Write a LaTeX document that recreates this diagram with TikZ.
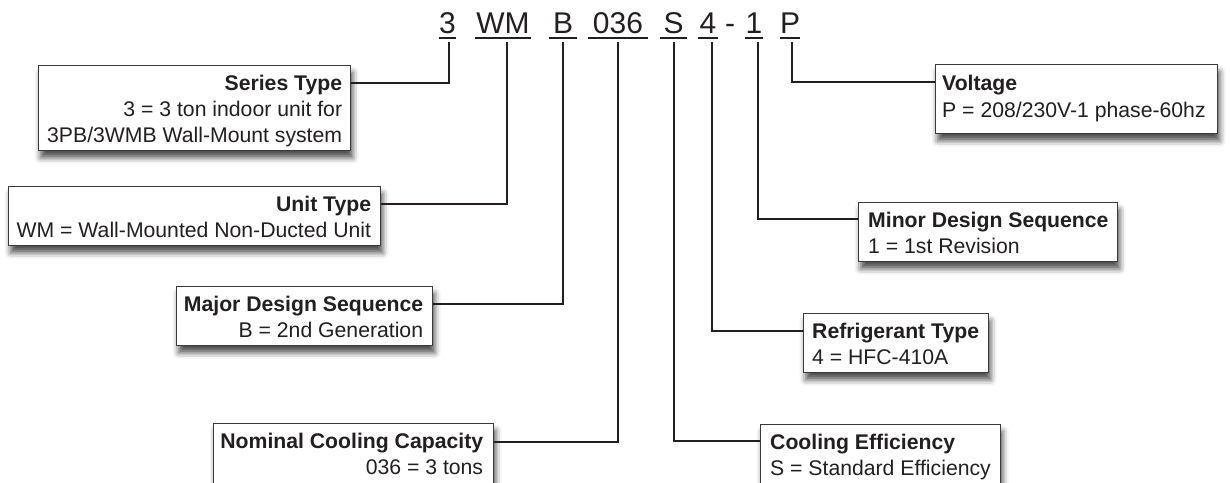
\documentclass[tikz,border=0pt]{standalone}
\usepackage{fontspec}
\setmainfont{Liberation Sans}
\usetikzlibrary{calc,shadows.blur}
\definecolor{ink}{HTML}{231F20}
\definecolor{boxline}{HTML}{3A3A3A}
\begin{document}
\begin{tikzpicture}[x=1pt,y=-1pt,
  box/.style={draw=boxline, line width=1.3pt, fill=white, anchor=north west, inner sep=0pt,
    blur shadow={shadow xshift=2pt, shadow yshift=-7pt, shadow blur radius=6pt, shadow opacity=70}},
  ttl/.style={font=\fontsize{21.2}{26}\selectfont\bfseries, text=ink, inner sep=0pt},
  dsc/.style={font=\fontsize{21.2}{26}\selectfont, text=ink, inner sep=0pt},
  code/.style={font=\fontsize{30}{36}\selectfont, text=ink, inner xsep=0pt, inner ysep=0pt, text depth=5pt, anchor=base},
  uline/.style={draw=ink, line width=2pt},
  conn/.style={draw=ink, line width=2pt}]
\useasboundingbox (0,0) rectangle (1230,482);

% code characters
\node[code, minimum width=17pt] (c3)   at (447.5,33) {3};
\node[code, minimum width=56pt] (cWM)  at (503,33)   {WM};
\node[code, minimum width=27pt] (cB)   at (563,33)   {B};
\node[code, minimum width=60pt] (c036) at (618,33)   {036};
\node[code, minimum width=27pt] (cS)   at (673.5,33) {S};
\node[code, minimum width=19pt] (c4)   at (708,33)   {4};
\node[code] (cdash) at (730,33) {-};
\node[code, minimum width=18pt] (c1)   at (754,33)   {1};
\node[code, minimum width=20pt] (cP)   at (790,33)   {P};
\foreach \n in {c3,cWM,cB,c036,cS,c4,c1,cP}
  \draw[uline] (\n.south west) -- (\n.south east);

% stems start points
\coordinate (t3)   at ($(c3.south)+(1.5,4)$);
\coordinate (tWM)  at ($(cWM.south)+(4,4)$);
\coordinate (tB)   at ($(cB.south)+(0,4)$);
\coordinate (t036) at ($(c036.south)+(0,4)$);
\coordinate (tS)   at ($(cS.south)+(0.5,4)$);
\coordinate (t4)   at ($(c4.south)+(4,4)$);
\coordinate (t1)   at ($(c1.south)+(4,4)$);
\coordinate (tP)   at ($(cP.south)+(2,4)$);

% boxes
\node[box, minimum width=312pt, minimum height=85pt] (series) at (38,65) {};
\node[box, minimum width=372pt, minimum height=59pt] (unit)   at (8,186) {};
\node[box, minimum width=256pt, minimum height=59pt] (major)  at (176,286) {};
\node[box, minimum width=280pt, minimum height=60pt] (nom)    at (213,423) {};
\node[box, minimum width=282pt, minimum height=69pt] (volt)   at (935,64) {};
\node[box, minimum width=259pt, minimum height=59pt] (minor)  at (858,202) {};
\node[box, minimum width=185pt, minimum height=59pt] (refr)   at (803,313) {};
\node[box, minimum width=240pt, minimum height=60pt] (cool)   at (760,424) {};

% texts (right aligned)
\node[ttl, anchor=base east] (seriesT) at ($(series.north east)+(-9,25)$) {Series Type};
\node[dsc, anchor=base east] (seriesA) at ($(series.north east)+(-9,51)$) {3 = 3 ton indoor unit for};
\node[dsc, anchor=base east] (seriesB) at ($(series.north east)+(-9,77)$) {3PB/3WMB Wall-Mount system};
\node[ttl, anchor=base east] (unitT) at ($(unit.north east)+(-10,25)$) {Unit Type};
\node[dsc, anchor=base east] (unitA) at ($(unit.north east)+(-10,51)$) {WM = Wall-Mounted Non-Ducted Unit};
\node[ttl, anchor=base east] (majorT) at ($(major.north east)+(-10,25)$) {Major Design Sequence};
\node[dsc, anchor=base east] (majorA) at ($(major.north east)+(-10,51)$) {B = 2nd Generation};
\node[ttl, anchor=base east] (nomT) at ($(nom.north east)+(-11,25)$) {Nominal Cooling Capacity};
\node[dsc, anchor=base east] (nomA) at ($(nom.north east)+(-11,51)$) {036 = 3 tons};
% texts (left aligned)
\node[ttl, anchor=base west] (voltT) at ($(volt.north west)+(7,26)$) {Voltage};
\node[dsc, anchor=base west] (voltA) at ($(volt.north west)+(7,53)$) {P = 208/230V-1 phase-60hz};
\node[ttl, anchor=base west] (minorT) at ($(minor.north west)+(10,25)$) {Minor Design Sequence};
\node[dsc, anchor=base west] (minorA) at ($(minor.north west)+(10,51)$) {1 = 1st Revision};
\node[ttl, anchor=base west] (refrT) at ($(refr.north west)+(9,25)$) {Refrigerant Type};
\node[dsc, anchor=base west] (refrA) at ($(refr.north west)+(9,51)$) {4 = HFC-410A};
\node[ttl, anchor=base west] (coolT) at ($(cool.north west)+(10,25)$) {Cooling Efficiency};
\node[dsc, anchor=base west] (coolA) at ($(cool.north west)+(10,51)$) {S = Standard Efficiency};

% connectors
\draw[conn] (t3)   |- ($(series.north east)+(0,18)$);
\draw[conn] (tWM)  |- ($(unit.north east)+(0,18)$);
\draw[conn] (tB)   |- ($(major.north east)+(0,17.5)$);
\draw[conn] (t036) |- ($(nom.north east)+(0,19)$);
\draw[conn] (tS)   |- ($(cool.north west)+(0,17)$);
\draw[conn] (t4)   |- ($(refr.north west)+(0,18)$);
\draw[conn] (t1)   |- ($(minor.north west)+(0,16.5)$);
\draw[conn] (tP)   |- ($(volt.north west)+(0,18)$);
\end{tikzpicture}
\end{document}
